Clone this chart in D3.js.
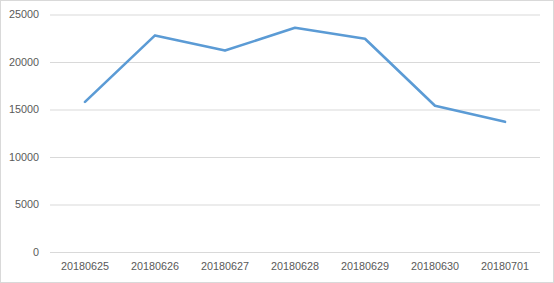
<!DOCTYPE html>
<meta charset="utf-8">
<style>
body { margin: 0; background: #fff; }
.grid line { stroke: #d9d9d9; stroke-width: 1px; }
.tick text { fill: #595959; font-family: "Liberation Sans", sans-serif; font-size: 10.8px; }
.line { fill: none; stroke: #5b9bd5; stroke-width: 2.6px; stroke-linejoin: round; stroke-linecap: round; }
</style>
<body>
<script src="https://d3js.org/d3.v7.min.js"></script>
<script>

var width = 554,
    height = 283;

var dates = ["20180625", "20180626", "20180627", "20180628", "20180629", "20180630", "20180701"];
var values = [15800, 22800, 21200, 23600, 22450, 15400, 13700];
var yTicks = [0, 5000, 10000, 15000, 20000, 25000];

var margin = {left: 50, right: 14, top: 14.5, bottom: 31};

var svg = d3.select("body").append("svg")
    .attr("width", width)
    .attr("height", height);

// outer chart border
svg.append("rect")
    .attr("x", 0.5).attr("y", 0.5)
    .attr("width", width - 1).attr("height", height - 1)
    .attr("fill", "#fff")
    .attr("stroke", "#d9d9d9");

var x = d3.scaleBand()
    .domain(dates)
    .range([margin.left, width - margin.right]);

var y = d3.scaleLinear()
    .domain([0, 25000])
    .range([height - margin.bottom, margin.top]);

// gridlines + y labels
var gy = svg.append("g")
    .attr("class", "grid")
    .attr("transform", "translate(" + margin.left + ",0)")
    .call(d3.axisLeft(y).tickValues(yTicks).tickFormat(d3.format("d"))
      .tickSize(-(width - margin.left - margin.right)).tickPadding(11));
gy.select(".domain").remove();

// x labels
var gx = svg.append("g")
    .attr("transform", "translate(0," + (height - margin.bottom) + ")")
    .call(d3.axisBottom(x).tickSize(0).tickPadding(10));
gx.select(".domain").remove();

var line = d3.line()
    .x(function(d, i) { return x(dates[i]) + x.bandwidth() / 2; })
    .y(function(d) { return y(d); });

svg.append("path")
    .datum(values)
    .attr("class", "line")
    .attr("d", line);

</script>
